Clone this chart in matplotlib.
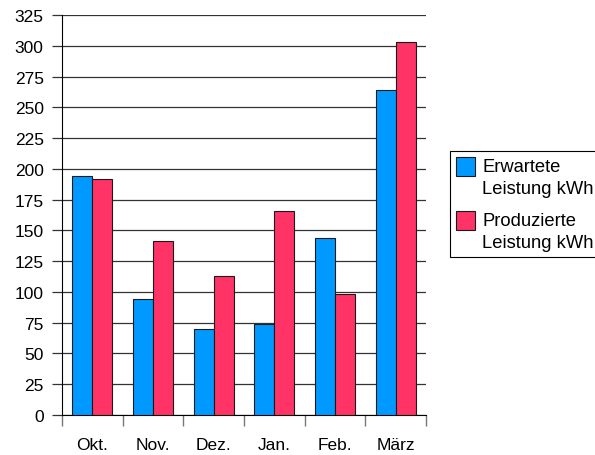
import matplotlib.pyplot as plt
from matplotlib.patches import Rectangle
import numpy as np

months = ['Okt.', 'Nov.', 'Dez.', 'Jan.', 'Feb.', 'März']
erwartet = [194, 94, 70, 74, 144, 264]
produziert = [192, 141, 113, 166, 98, 303]
labels = ['Erwartete\nLeistung kWh', 'Produzierte\nLeistung kWh']
colors = ['#0099ff', '#ff3366']

plt.rcParams['font.family'] = ['Liberation Sans', 'DejaVu Sans']
plt.rcParams['font.size'] = 12.5

W, H = 595, 456
fig = plt.figure(figsize=(W / 100, H / 100), dpi=100)
ax = fig.add_axes([62 / W, 40 / H, 364 / W, 400 / H])

x = np.arange(len(months))
w = 0.33
ax.bar(x - w / 2, erwartet, w, color=colors[0], edgecolor='#1a1a1a', linewidth=0.8, zorder=3)
ax.bar(x + w / 2, produziert, w, color=colors[1], edgecolor='#1a1a1a', linewidth=0.8, zorder=3)

ax.set_xlim(-0.5, len(months) - 0.5)
ax.set_ylim(0, 325)
ax.set_yticks(range(0, 326, 25))
ax.yaxis.grid(True, color='#333333', linewidth=0.9, zorder=0)
ax.tick_params(axis='y', length=7.2, width=0.9, color='#333333', pad=6)

ax.set_xticks(x)
ax.set_xticklabels(months)
ax.set_xticks(np.arange(-0.5, len(months), 1), minor=True)
ax.tick_params(axis='x', which='major', length=0, pad=16)
ax.tick_params(axis='x', which='minor', length=8, width=1, color='#777777')

for s in ['top', 'right']:
    ax.spines[s].set_visible(False)

# legend drawn by hand: box runs off the right edge, swatch aligned with first line
fig.patches.append(Rectangle((450 / W, 1 - 258 / H), 160 / W, 106 / H, transform=fig.transFigure,
                             facecolor='white', edgecolor='black', linewidth=0.8))
for i, (lab, c) in enumerate(zip(labels, colors)):
    top = 158 + i * 54
    fig.patches.append(Rectangle((456 / W, 1 - (top + 19) / H), 19 / W, 19 / H,
                                 transform=fig.transFigure, facecolor=c,
                                 edgecolor='#1a1a1a', linewidth=0.8))
    fig.text(482 / W, 1 - (top + 1) / H, lab, va='top', ha='left', fontsize=13.2,
             linespacing=1.38)

fig.savefig('out.png', dpi=100)
